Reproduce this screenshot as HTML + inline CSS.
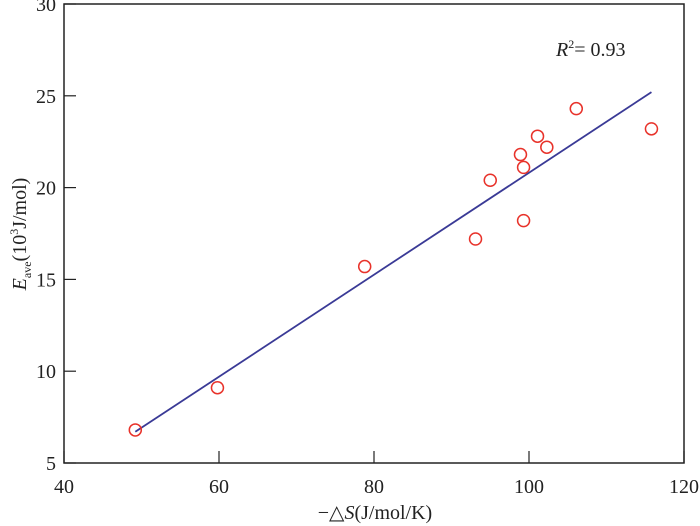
<!DOCTYPE html>
<html><head><meta charset="utf-8"><style>
html,body{margin:0;padding:0;background:#fff;width:700px;height:526px;overflow:hidden}
text{font-family:"Liberation Serif",serif;fill:#222}
</style></head><body>
<svg id="chart" width="700" height="526" viewBox="0 0 700 526"></svg>
<script>
const xTicks=[40,60,80,100,120];
const yTicks=[5,10,15,20,25,30];
const xValues=[49.2,59.8,78.8,93.1,95.0,98.9,99.3,99.3,101.1,102.3,106.1,115.8];
const yValues=[6.8,9.1,15.7,17.2,20.4,21.8,21.1,18.2,22.8,22.2,24.3,23.2];
const fitX=[49.2,115.8];
const fitY=[6.7,25.2];
const L=64,R=684,T=4,B=463;
const sx=v=>L+(v-40)/80*(R-L);
const sy=v=>B-(v-5)/25*(B-T);
const svg=document.getElementById('chart');
const NS='http://www.w3.org/2000/svg';
function mk(tag,attrs,parent){const e=document.createElementNS(NS,tag);for(const k in attrs)e.setAttribute(k,attrs[k]);(parent||svg).appendChild(e);return e;}
const frame=mk('rect',{x:L,y:T,width:R-L,height:B-T,fill:'none',stroke:'#222','stroke-width':1.5});


xTicks.forEach(v=>{
 const t=mk('line',{x1:sx(v),x2:sx(v),y1:B,y2:B-12,stroke:'#222','stroke-width':1.2});
 
 
 const l=mk('text',{x:sx(v),y:B+30,'text-anchor':'middle','font-size':20});
 l.textContent=v;
 
 
});
yTicks.forEach(v=>{
 const t=mk('line',{x1:L,x2:L+12,y1:sy(v),y2:sy(v),stroke:'#222','stroke-width':1.2});
 
 
 const l=mk('text',{x:L-8,y:sy(v)+7,'text-anchor':'end','font-size':20});
 l.textContent=v;
 
 
});
const fit=mk('line',{x1:sx(fitX[0]),y1:sy(fitY[0]),x2:sx(fitX[1]),y2:sy(fitY[1]),stroke:'#3a3a96','stroke-width':1.8});


xValues.forEach((v,i)=>{
 const c=mk('circle',{cx:sx(v),cy:sy(yValues[i]),r:6,fill:'none',stroke:'#e8322a','stroke-width':1.5});
 
 
});
</script>
<svg style="position:absolute;left:0;top:0" width="700" height="526">
<text x="556" y="56" font-size="20"><tspan font-style="italic">R</tspan><tspan font-size="12" dy="-8">2</tspan><tspan dy="8">= 0.93</tspan></text>
<text x="375" y="519" text-anchor="middle" font-size="20">−△<tspan font-style="italic">S</tspan>(J/mol/K)</text>
<text transform="translate(26,234) rotate(-90)" text-anchor="middle" font-size="20"><tspan font-style="italic">E</tspan><tspan font-size="12" dy="5">ave</tspan><tspan dy="-5">(10</tspan><tspan font-size="12" dy="-8">3</tspan><tspan dy="8">J/mol)</tspan></text>
</svg>
</body></html>
